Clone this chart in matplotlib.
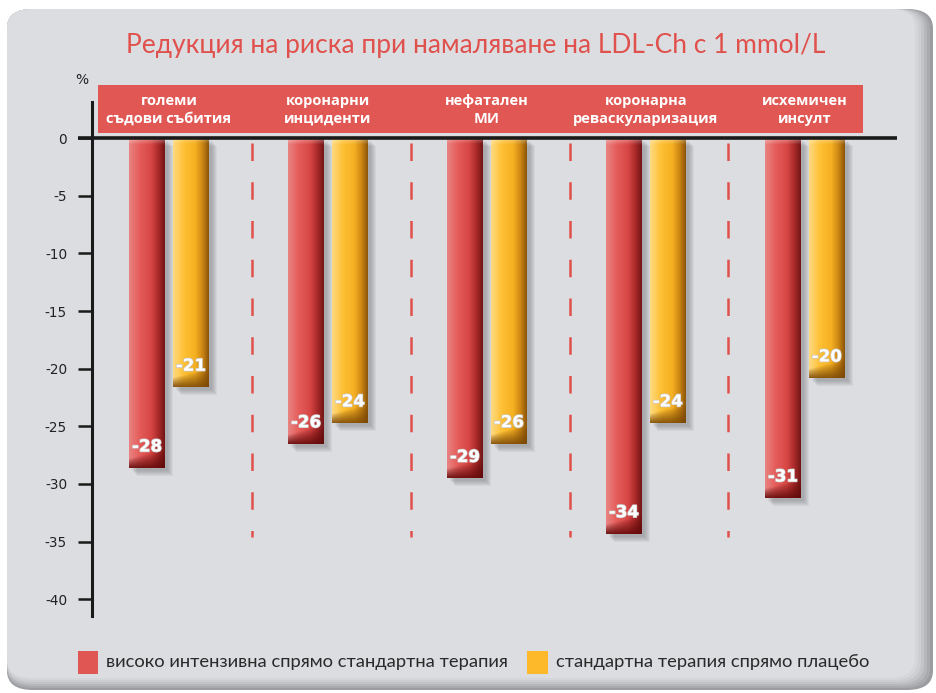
import numpy as np
import matplotlib
matplotlib.use("Agg")
import matplotlib.pyplot as plt
from matplotlib.patches import FancyBboxPatch, Rectangle
import matplotlib.patheffects as pe

# ---------------- data ----------------
categories = ["големи\nсъдови събития", "коронарни\nинциденти", "нефатален\nМИ",
              "коронарна\nреваскуларизация", "исхемичен\nинсулт"]
high_vs_std = [-28.6, -26.5, -29.5, -34.3, -31.2]      # bar lengths
std_vs_placebo = [-21.6, -24.7, -26.5, -24.7, -20.8]
high_labels = ["-28", "-26", "-29", "-34", "-31"]
std_labels = ["-21", "-24", "-26", "-24", "-20"]
series_names = ["високо интензивна спрямо стандартна терапия",
                "стандартна терапия спрямо плацебо"]
yticks = [0, -5, -10, -15, -20, -25, -30, -35, -40]
title = "Редукция на риска при намаляване на LDL-Ch с 1 mmol/L"

RED = "#e05652"
YEL = "#fdb92a"
TITLE_RED = "#e0504c"

fig = plt.figure(figsize=(9.36, 6.93), dpi=100)
fig.patch.set_facecolor("white")

# rounded grey panel with shading on right / bottom
W, H = 936, 693
def fbox(x0, y0, x1, y1, color, r=26, z=-10):
    p = FancyBboxPatch((x0 / W, 1 - y1 / H), (x1 - x0) / W, (y1 - y0) / H,
                       boxstyle=f"round,pad=0,rounding_size={r / W}",
                       transform=fig.transFigure, facecolor=color,
                       edgecolor="none", zorder=z)
    fig.patches.append(p)

shades = ["#9c9da1", "#a9aaad", "#b6b7ba", "#c3c4c7", "#cdced1", "#d5d6d9"]
for i, c in enumerate(shades):
    fbox(7, 9, 933 - i * 3, 690 - i * 2, c)
fbox(7, 9, 915, 678, "#dcdde0")

ax = fig.add_axes([92 / W, 1 - 616 / H, (897 - 92) / W, (616 - 85) / H])
ax.set_zorder(2)
ax.set_facecolor("none")
for s in ["top", "right", "bottom"]:
    ax.spines[s].set_visible(False)
ax.spines["left"].set_linewidth(2.2)
ax.spines["left"].set_color("#1a1a1a")
ax.spines["left"].set_bounds(-41.45, 3.1)

x = np.arange(len(categories))
bw = 0.226
off = 0.138

ypx = 11.53  # pixels per y unit (for pixel sized effects)
xpx = 159.0

def grad_img(kind, h_units):
    nh, nw = 300, 80
    t = np.linspace(0, 1, nw)
    if kind == "r":
        stops = [(0, (233, 132, 130)), (0.3, (228, 92, 90)), (0.62, (214, 70, 68)), (0.82, (170, 42, 42)), (1, (115, 22, 22))]
        dark = np.array([95, 8, 8])
    else:
        stops = [(0, (255, 218, 130)), (0.3, (254, 192, 52)), (0.62, (246, 176, 34)), (0.82, (205, 135, 20)), (1, (140, 85, 8))]
        dark = np.array([120, 70, 5])
    sx = [s[0] for s in stops]
    cols = np.stack([np.interp(t, sx, [s[1][k] for s in stops]) for k in range(3)], -1)
    img = np.repeat(cols[None, :, :], nh, axis=0)
    v = np.linspace(0, 1, nh)[:, None]
    # top light fade
    tf = 6 / (abs(h_units) * ypx)
    ftop = np.clip(1 - v / tf, 0, 1)[..., None]
    img = img * (1 - 0.35 * ftop) + 255 * 0.35 * ftop
    # bottom dark shading, curved
    d = 16 / (abs(h_units) * ypx)
    start = 1 - d * (0.55 + 0.6 * t[None, :])
    fb = np.clip((v - start) / (1 - start + 1e-9), 0, 1)
    fb = (fb ** 0.8)[..., None]
    img = img * (1 - 0.85 * fb) + dark * 0.85 * fb
    a = np.ones((nh, nw, 1))
    return np.concatenate([img / 255.0, a], -1)

def draw_bars(xs, vals, kind, labels):
    bars = ax.bar(xs, vals, bw, color="none", edgecolor="none", zorder=3)
    for b, lab in zip(bars, labels):
        x0, w = b.get_x(), b.get_width()
        y1 = b.get_y() + b.get_height()
        # shadow
        for k in range(6):
            dx = (3 + k) / xpx
            dy = (3 + k) / ypx
            ax.add_patch(Rectangle((x0 + dx, y1 - dy), w, -y1, facecolor="#55575c",
                                   alpha=0.07, edgecolor="none", zorder=2))
        ax.imshow(grad_img(kind, y1), extent=(x0, x0 + w, y1, 0), origin="upper",
                  aspect="auto", zorder=3, interpolation="bilinear")
        ax.text(x0 + w / 2, y1 + 1.85, lab, ha="center", va="center", color="white",
                fontsize=12, fontweight="bold", family="DejaVu Sans", zorder=5,
                path_effects=[pe.withStroke(linewidth=1.0, foreground="#c8c8c8")])

draw_bars(x - off, high_vs_std, "r", high_labels)
draw_bars(x + off, std_vs_placebo, "y", std_labels)

# header band
ax.add_patch(Rectangle((-0.447, 0.43), 4.812, 4.17, facecolor="#e05753", edgecolor="none",
                       zorder=4, clip_on=False))
for xi, c in zip(x, categories):
    ax.text(xi, 2.45, c, ha="center", va="center", color="white", fontsize=10.5,
            fontweight="bold", family="Open Sans", linespacing=1.38, zorder=6)

# zero line
ax.plot([-0.57, 4.58], [0, 0], color="#1a1a1a", lw=2.6, zorder=6, clip_on=False,
        solid_capstyle="butt")

# dashed separators
for xi in x[:-1]:
    ax.plot([xi + 0.52, xi + 0.52], [-0.45, -34.6], color=TITLE_RED, lw=1.8,
            dashes=(7, 8.5), zorder=2)

ax.set_xlim(-0.484, 4.58)
ax.set_ylim(-41.45, 4.6)
ax.set_xticks([])
ax.set_yticks(yticks)
ax.set_yticklabels([str(v) for v in yticks], family="DejaVu Sans", fontsize=9.8, color="#222222")
ax.tick_params(axis="y", direction="out", length=10, width=1.8, color="#1a1a1a", pad=8)

fig.text(82 / W, 1 - 80 / H, "%", ha="center", va="center", fontsize=10,
         color="#222222", family="DejaVu Sans")

fig.text(476 / W, 1 - 46 / H, title, ha="center", va="center", color=TITLE_RED,
         fontsize=19, family="Lato")

# legend
fig.patches.append(Rectangle((78 / W, 1 - 674 / H), 20 / W, 23 / H, transform=fig.transFigure,
                             facecolor=RED, edgecolor="none"))
fig.text(106 / W, 1 - 662 / H, series_names[0], ha="left", va="center", fontsize=13.2,
         color="#2a2a2a", family="Lato")
fig.patches.append(Rectangle((527 / W, 1 - 674 / H), 21 / W, 23 / H, transform=fig.transFigure,
                             facecolor=YEL, edgecolor="none"))
fig.text(556 / W, 1 - 662 / H, series_names[1], ha="left", va="center", fontsize=13.2,
         color="#2a2a2a", family="Lato")

fig.savefig("out.png", dpi=100, facecolor="white")
